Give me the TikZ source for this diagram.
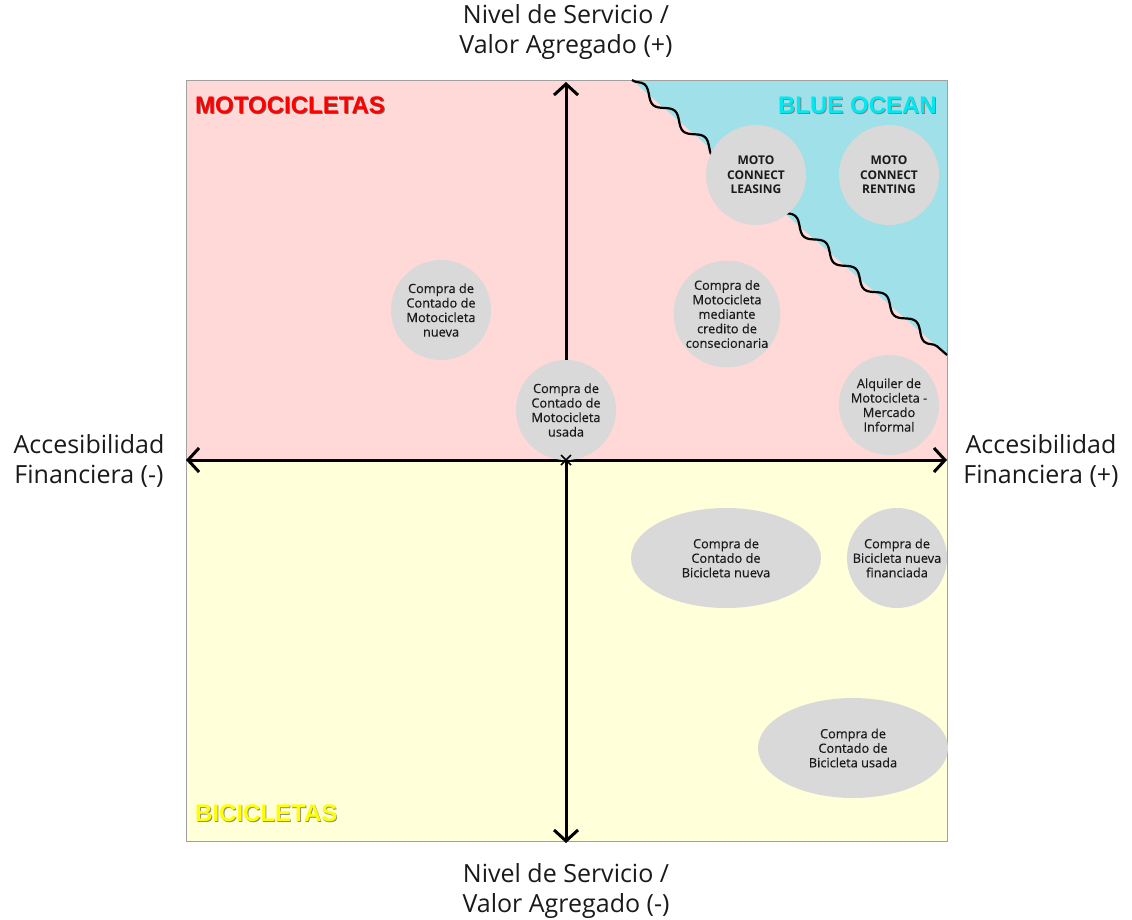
\documentclass[tikz,border=0pt]{standalone}
\usepackage{fontspec}
\setmainfont{Open Sans}
\newfontfamily\bubblefont[FakeBold=0.35]{Open Sans}
\newfontfamily\zonefont{Liberation Sans}
\usetikzlibrary{arrows.meta,decorations.pathmorphing,shapes.geometric}
\definecolor{quadpink}{HTML}{FFD8D8}
\definecolor{quadyellow}{HTML}{FFFFD9}
\definecolor{oceanblue}{HTML}{A0E0E8}
\definecolor{bubblegray}{HTML}{D9D9D9}
\definecolor{framegray}{HTML}{A0A0A0}
\definecolor{motored}{HTML}{FF0000}
\definecolor{oceancyan}{HTML}{00E8F0}
\definecolor{bikeyellow}{HTML}{FFFF00}
\definecolor{ink}{HTML}{1A1A1A}
\begin{document}
\begin{tikzpicture}[x=1pt,y=-1pt,
  bubble/.style={circle, fill=bubblegray, minimum size=100pt, inner sep=0pt,
    align=center, text=ink, font=\bubblefont\fontsize{12.8}{14.5}\selectfont},
  boldbubble/.style={bubble, font=\fontsize{12}{14.5}\selectfont\bfseries},
  oval/.style={ellipse, fill=bubblegray, minimum width=190pt, minimum height=100pt,
    inner sep=0pt, align=center, text=ink, font=\bubblefont\fontsize{12.8}{14.5}\selectfont},
  axislabel/.style={align=center, text=ink, font=\fontsize{25}{29.5}\selectfont},
  axisline/.style={line width=3pt,
    {Straight Barb[length=11pt,width=24pt,line width=3pt]}-{Straight Barb[length=11pt,width=24pt,line width=3pt]}},
  zonelabel/.style={font=\zonefont\fontsize{24}{28}\selectfont\bfseries, inner sep=0pt}
]
\useasboundingbox (0,0) rectangle (1132,919);
\fill[white] (0,0) rectangle (1132,919);

% quadrant backgrounds
\fill[quadpink] (186,80) rectangle (947,460);
\fill[quadyellow] (186,460) rectangle (947,841);
\fill[oceanblue] (632,80) -- (947,80) -- (947,355) -- cycle;
\draw[framegray, line width=0.8pt] (186,80) rectangle (947,841);

% wavy border of the blue ocean
\coordinate (wavestart) at (632,80);
\coordinate (waveend) at (947,355);
\draw[line width=2.2pt, decorate,
  decoration={snake, segment length=40pt, amplitude=5pt}] (wavestart) -- (waveend);

% axes
\coordinate (axL) at (186,460);
\coordinate (axR) at (947,460);
\coordinate (axT) at (566,82);
\coordinate (axB) at (566,843);
\draw[axisline] (axL) -- (axR);
\draw[axisline] (axT) -- (axB);

% zone titles (with a soft shadow)
\node[zonelabel, anchor=west, text=black!60] (motoS) at (195.8,105.8) {MOTOCICLETAS};
\node[zonelabel, anchor=west, text=motored] (moto) at (195,105) {MOTOCICLETAS};
\node[zonelabel, anchor=east, text=black!50] (oceanS) at (937.8,105.8) {BLUE OCEAN};
\node[zonelabel, anchor=east, text=oceancyan] (ocean) at (937,105) {BLUE OCEAN};
\node[zonelabel, anchor=west, text=black!45] (bikeS) at (195.8,813.8) {BICICLETAS};
\node[zonelabel, anchor=west, text=bikeyellow] (bike) at (195,813) {BICICLETAS};

% offers
\node[boldbubble] (leasing) at (756,175) {MOTO\\CONNECT\\LEASING};
\node[boldbubble] (renting) at (889,175) {MOTO\\CONNECT\\RENTING};
\node[bubble] (motonueva) at (441,310) {Compra de\\Contado de\\Motocicleta\\nueva};
\node[bubble] (credito) at (727,314) {Compra de\\Motocicleta\\mediante\\credito de\\consecionaria};
\node[bubble] (motousada) at (566,410) {Compra de\\Contado de\\Motocicleta\\usada};
\node[bubble] (alquiler) at (889,405) {Alquiler de\\Motocicleta -\\Mercado\\Informal};
\node[oval] (bicinueva) at (726,558) {Compra de\\Contado de\\Bicicleta nueva};
\node[bubble] (bicifin) at (897,558) {Compra de\\Bicicleta nueva\\financiada};
\node[oval] (biciusada) at (853,748) {Compra de\\Contado de\\Bicicleta usada};

% centre mark
\coordinate (origin) at (566,460);
\draw[line width=1.6pt] ([xshift=-5pt,yshift=-5pt]origin) -- ([xshift=5pt,yshift=5pt]origin)
  ([xshift=-5pt,yshift=5pt]origin) -- ([xshift=5pt,yshift=-5pt]origin);

% axis labels
\node[axislabel] (servplus) at (566,32) {Nivel de Servicio /\\Valor Agregado (+)};
\node[axislabel] (servminus) at (566,891) {Nivel de Servicio /\\Valor Agregado (-)};
\node[axislabel] (accminus) at (89,461) {Accesibilidad\\Financiera (-)};
\node[axislabel] (accplus) at (1041,461) {Accesibilidad\\Financiera (+)};
\end{tikzpicture}
\end{document}
